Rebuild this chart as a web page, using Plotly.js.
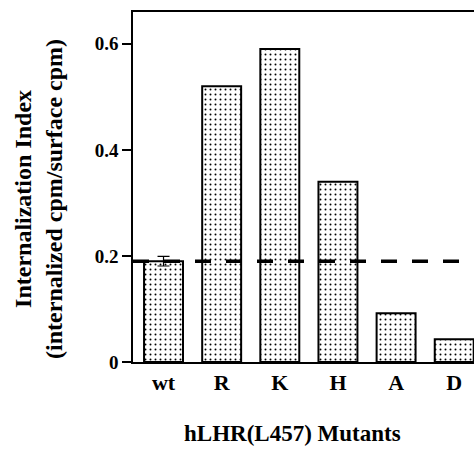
<!DOCTYPE html>
<html>
<head>
<meta charset="utf-8">
<script src="https://cdn.plot.ly/plotly-3.0.1.min.js"></script>
<style>html,body{margin:0;padding:0;background:#fff;}#chart{width:474px;height:452px;}</style>
</head>
<body>
<div id="chart"></div>
<script>
const categories = ['wt', 'R', 'K', 'H', 'A', 'D'];
const indexValues = [0.19, 0.52, 0.59, 0.34, 0.092, 0.043];
const wtError = [0.009];
const wtLevel = 0.19;
const yTicks = [0, 0.2, 0.4, 0.6];
const yTickLabels = ['0', '0.2', '0.4', '0.6'];

const FONT = 'Liberation Serif, Times New Roman, serif';

const bars = {
  type: 'bar',
  x: categories,
  y: indexValues,
  width: 0.67,
  marker: {
    color: '#ffffff',
    line: {color: '#000000', width: 2},
    pattern: {shape: '.', fgcolor: '#000000', bgcolor: '#ffffff', size: 5, solidity: 0.12}
  },
  hoverinfo: 'skip',
  showlegend: false
};

const err = {
  type: 'scatter',
  mode: 'markers',
  x: [categories[0]],
  y: [indexValues[0]],
  marker: {size: 0.1, color: 'rgba(0,0,0,0)'},
  error_y: {type: 'data', array: wtError, visible: true, color: '#000000', thickness: 1.2, width: 6},
  hoverinfo: 'skip',
  showlegend: false
};

const layout = {
  width: 474,
  height: 452,
  margin: {l: 133, r: 0, t: 12, b: 90},
  paper_bgcolor: '#ffffff',
  plot_bgcolor: '#ffffff',
  font: {family: FONT, color: '#000000', size: 17, weight: 'bold'},
  xaxis: {
    type: 'category',
    range: [-0.525, 5.34],
    showline: true,
    mirror: true,
    linecolor: '#000000',
    linewidth: 1.8,
    showgrid: false,
    zeroline: false,
    ticks: '',
    ticklabelstandoff: 0,
    tickfont: {family: FONT, size: 22, weight: 'bold', color: '#000000'}
  },
  yaxis: {
    range: [0, 0.66],
    showline: true,
    linecolor: '#000000',
    linewidth: 1.8,
    showgrid: false,
    zeroline: false,
    ticks: 'outside',
    ticklen: 9,
    tickwidth: 1.5,
    tickcolor: '#000000',
    tickvals: yTicks,
    ticktext: yTickLabels,
    tickfont: {family: FONT, size: 19, weight: 'bold', color: '#000000'}
  },
  shapes: [{
    type: 'line', xref: 'paper', yref: 'y', x0: 0, x1: 1, y0: wtLevel, y1: wtLevel,
    line: {color: '#000000', width: 3.5, dash: '16px,15px'},
    layer: 'above'
  }],
  annotations: [{
    xref: 'paper', yref: 'paper', x: (292 - 133) / 341, y: -0.205,
    xanchor: 'center', yanchor: 'middle', showarrow: false,
    text: 'hLHR(L457) Mutants',
    font: {family: FONT, size: 23, weight: 'bold', color: '#000000'}
  }, {
    xref: 'paper', yref: 'paper', x: (39 - 133) / 341, y: 0.466,
    xanchor: 'center', yanchor: 'middle', showarrow: false, textangle: -90,
    text: 'Internalization Index<br>(internalized cpm/surface cpm)',
    font: {family: FONT, size: 24, weight: 'bold', color: '#000000'}
  }]
};

Plotly.newPlot('chart', [bars, err], layout, {displayModeBar: false, staticPlot: true});
</script>
</body>
</html>
